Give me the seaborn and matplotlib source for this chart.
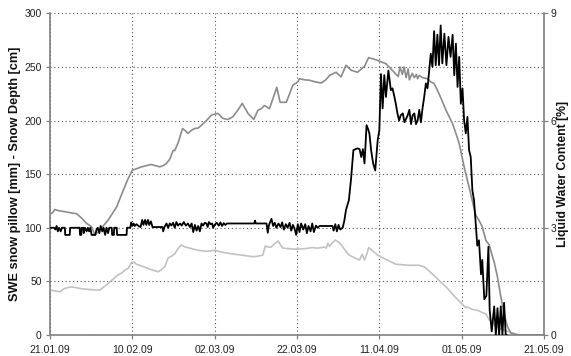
import pandas as pd
import matplotlib
matplotlib.use("Agg")
import matplotlib.pyplot as plt
import matplotlib.dates as mdates
import seaborn as sns

start = pd.Timestamp("2009-01-21")

# Snow depth [cm] (days after 21.01.09)
depth_day = [0, 0.6, 1.2, 2.0, 3.6, 5.0, 6.5, 7.7, 8.9, 10.1, 10.9, 12.1, 14.1, 16.2,
             17.8, 19.0, 20.0, 21.0, 22.2, 23.5, 24.6, 25.5, 26.7, 27.5, 28.3, 29.1,
             29.9, 30.3, 31.1, 32.2, 33.0, 33.5, 34.4, 35.2, 36.0, 36.8, 38.0, 39.2,
             40.0, 40.8, 42.0, 43.2, 44.4, 45.5, 46.7, 48.1, 49.5, 50.5, 51.3, 52.1,
             53.3, 55.1, 55.9, 57.4, 59.0, 60.2, 60.6, 61.8, 63.0, 64.5, 65.9, 67.0,
             67.9, 69.5, 70.7, 71.9, 73.1, 74.7, 76.4, 77.4, 78.5, 79.6, 81.6, 82.6,
             83.6, 84.6, 85.0, 85.6, 86.0, 86.5, 87.0, 87.3, 88.0, 88.5, 89.0, 89.3,
             89.7, 90.5, 91.7, 92.5, 93.3, 94.5, 95.4, 96.2, 97.8, 98.6, 99.4, 100.6,
             101.8, 102.6, 103.4, 104.2, 105.0, 105.9, 106.7, 107.5, 107.9, 108.7,
             109.5, 110.3, 111.1, 111.9, 113.1, 114.0, 120.0]
depth_cm = [113, 114, 117, 116, 115, 114, 113, 109, 104, 101, 93, 98, 107, 119.5,
            135, 146, 153.7, 155, 156.8, 158, 159, 158, 156.8, 158, 160, 164,
            172, 172, 179, 192.6, 190, 188, 191, 192.6, 193, 195.7, 200, 205,
            206, 206.6, 202, 201, 203.4, 209, 216, 206.6, 201, 209.6, 211, 214,
            211, 231, 217, 217, 233, 236, 239, 238, 237.6, 236, 235, 238,
            242, 245, 240.7, 251.6, 247, 245, 250.6, 258.7, 257.5, 256, 253, 249,
            245, 241, 250, 243, 250, 240, 248, 238, 244, 240, 243, 239,
            242, 240, 239, 236, 234.5, 225, 217, 209.6, 197, 188, 178.6, 156.8,
            138, 125, 112, 107, 101, 88, 84, 73, 68, 54,
            36, 20, 8, 2, 0.5, 0, 0]

# Snow water equivalent from the snow pillow [mm]
swe_day = [0, 1.2, 2.4, 3.6, 5.0, 6.0, 8.0, 10.9, 12.1, 13.5, 15.0, 16.5, 17.5, 18.2,
           19.0, 19.4, 19.8, 20.4, 21.0, 22.5, 24.5, 26.3, 27.1, 27.9, 28.7, 29.3,
           30.3, 31.0, 31.9, 32.5, 33.9, 36.0, 38.0, 40.0, 41.5, 43.6, 45.5, 47.5,
           49.3, 50.5, 51.7, 52.3, 53.0, 53.7, 54.5, 55.4, 56.0, 56.6, 58.0, 59.8,
           61.8, 63.8, 65.0, 66.7, 67.1, 67.5, 67.9, 68.6, 69.3, 70.0, 70.7, 71.7,
           72.7, 74.0, 75.2, 75.8, 76.4, 77.0, 77.4, 78.5, 79.6, 80.6, 81.6, 83.0,
           84.0, 85.5, 87.3, 89.7, 90.9, 92.3, 93.7, 95.0, 96.2, 97.8, 99.4, 101.0,
           101.4, 102.5, 103.8, 105.0, 105.9, 106.7, 107.5, 108.3, 109.9, 111.5,
           113.1, 114.0, 120.0]
swe_mm = [42, 41, 40.4, 43.5, 44.8, 44.4, 43, 42, 42, 46, 51, 56, 58, 60.6,
          62, 65, 67.4, 68, 66, 64, 61, 59, 61, 63.7, 72, 73,
          75.6, 80, 84, 82.5, 81, 79, 78, 79, 77.5, 76, 75, 74,
          73, 73.5, 74.5, 83, 82, 82, 85, 87.6, 84, 81, 80.5, 80,
          80.5, 81.5, 81, 82, 81, 85.4, 82.7, 86, 88.5, 87, 84.5, 79,
          74.5, 72, 70, 75.2, 70, 76, 81.5, 78, 74.5, 72.5, 70.5, 68,
          66, 65.5, 65, 65, 63.6, 59, 54, 49, 45, 38, 31.5, 25.5,
          26, 24, 23, 21, 19.5, 14, 12.5, 8, 5, 3,
          1, 0, 0]

# Liquid water content [%]
lwc_day = [0, 1.0, 1.3, 1.6, 1.9, 2.2, 2.6, 2.9, 3.6, 3.7, 4.8, 4.9, 7.2, 7.3, 7.6,
           7.7, 8.1, 8.2, 8.5, 8.9, 9.2, 9.5, 9.8, 10.1, 11.0, 11.3, 11.6, 12.0,
           12.3, 12.7, 13.0, 13.4, 13.7, 14.1, 14.4, 15.0, 15.1, 15.5, 15.6, 16.2,
           16.3, 18.6, 18.7, 19.5, 19.7, 20.0, 20.3, 20.6, 21.0, 21.5, 22.0, 22.4,
           22.7, 23.1, 23.4, 23.8, 24.1, 24.5, 24.9, 27.3, 27.5, 27.8, 28.3, 28.7,
           29.1, 29.5, 29.9, 30.3, 30.7, 31.1, 31.6, 32.0, 32.5, 33.0, 33.5, 34.0,
           34.4, 34.8, 35.2, 35.6, 36.0, 36.4, 36.8, 37.2, 37.6, 38.0, 38.3, 38.6,
           39.0, 39.4, 39.6, 40.0, 40.5, 41.0, 41.4, 41.8, 42.2, 42.6, 43.0, 49.6,
           49.8, 50.0, 52.6, 52.9, 53.2, 53.8, 54.2, 54.6, 55.0, 55.5, 56.0, 56.4,
           56.8, 57.3, 57.7, 58.2, 58.6, 59.0, 59.4, 59.8, 60.2, 60.6, 61.0, 61.5,
           62.0, 62.4, 62.8, 63.3, 63.7, 64.1, 64.6, 65.0, 65.5, 68.6, 68.9, 69.3,
           69.7, 70.1, 70.5, 71.1, 71.5, 71.9, 72.6, 73.1, 73.7, 74.2, 74.7, 75.2,
           75.6, 76.0, 76.4, 76.9, 77.3, 77.6, 78.0, 78.5, 79.0, 79.6, 80.0, 80.4,
           80.8, 81.2, 81.6, 82.2, 82.8, 83.2, 83.6, 84.0, 84.4, 84.8, 85.2, 85.7,
           86.1, 86.5, 86.9, 87.3, 87.7, 88.1, 88.5, 88.9, 89.3, 89.7, 90.1, 90.5,
           90.9, 91.3, 91.7, 92.1, 92.5, 92.9, 93.3, 93.7, 94.1, 94.5, 94.9, 95.3,
           95.8, 96.3, 96.8, 97.3, 97.8, 98.2, 98.6, 99.0, 99.4, 99.8, 100.2, 100.6,
           101.0, 101.4, 101.8, 102.2, 102.6, 103.0, 103.4, 103.8, 104.2, 104.7,
           105.0, 105.5, 106.0, 106.5, 106.8, 107.3, 107.9, 108.3, 108.7, 109.1,
           109.5, 109.9, 110.3, 110.7, 111.0]
lwc_pct = [3.0, 3.0, 2.95, 3.05, 2.9, 3.0, 2.9, 3.0, 3.0, 2.8, 2.8, 3.0, 3.0, 2.8, 2.8,
           3.0, 3.0, 2.85, 3.0, 2.9, 3.0, 2.9, 3.0, 2.8, 2.8, 2.95, 3.0, 2.85,
           3.05, 2.9, 3.0, 2.8, 3.0, 2.85, 3.0, 3.0, 2.8, 2.8, 3.0, 3.0,
           2.8, 2.8, 3.0, 3.0, 3.15, 3.05, 3.12, 3.05, 3.1, 3.05, 3.02, 3.22,
           3.08, 3.22, 3.08, 3.22, 3.08, 3.18, 3.02, 3.02, 2.9, 3.02, 3.12, 3.0,
           3.12, 3.06, 3.14, 3.0, 3.16, 3.06, 3.12, 3.06, 3.16, 3.06, 3.12, 3.02,
           3.12, 2.88, 3.08, 2.92, 3.05, 2.9, 3.12, 3.06, 3.14, 3.12, 3.02, 3.16,
           3.1, 3.12, 3.0, 3.08, 3.14, 3.06, 3.15, 3.05, 3.13, 3.08, 3.12, 3.12,
           3.2, 3.12, 3.12, 2.86, 3.08, 3.25, 3.05, 3.14, 3.0, 3.12, 3.02, 3.15,
           2.95, 3.1, 3.0, 3.14, 2.92, 3.08, 2.98, 2.8, 3.1, 2.88, 3.12, 2.95,
           3.1, 2.85, 3.05, 2.9, 3.12, 2.88, 3.06, 3.0, 3.05, 3.05, 2.92, 3.1,
           2.9, 3.08, 2.95, 3.0, 3.2, 3.5, 3.77, 4.33, 5.17, 5.2, 5.22, 5.2,
           4.98, 5.2, 4.8, 5.87, 5.75, 5.63, 5.17, 4.8, 4.6, 5.45, 5.73, 7.3,
           6.34, 7.27, 6.66, 7.4, 6.85, 6.9, 6.7, 6.47, 6.2, 6.0, 6.15, 6.2,
           5.95, 6.05, 6.15, 6.3, 5.9, 6.15, 6.2, 5.9, 6.0, 6.3, 5.95, 6.35,
           6.66, 7.04, 6.9, 7.4, 7.87, 7.5, 8.5, 7.55, 8.4, 7.55, 8.66, 7.6,
           8.43, 7.55, 8.34, 7.78, 8.4, 7.27, 8.15, 6.94, 7.78, 6.47, 6.9, 6.0,
           5.64, 6.1, 5.17, 4.98, 4.05, 3.77, 3.12, 2.5, 2.65, 1.7,
           2.1, 1.0, 1.1, 2.47, 0.7, 0.1, 0.8, 0.0, 0.75, 0.0,
           0.8, 0.0, 0.9, 0.0, 0.0]

x_tick_labels = ["21.01.09", "10.02.09", "02.03.09", "22.03.09",
                 "11.04.09", "01.05.09", "21.05.09"]
left_ticks = [0, 50, 100, 150, 200, 250, 300]
right_ticks = [0, 3, 6, 9]


def frame(days, values, name):
    return pd.DataFrame({"date": start + pd.to_timedelta(days, unit="D"),
                         name: values})


depth_df = frame(depth_day, depth_cm, "value")
swe_df = frame(swe_day, swe_mm, "value")
lwc_df = frame(lwc_day, lwc_pct, "value")

sns.set_style("white")
plt.rcParams["font.family"] = ["Liberation Sans", "DejaVu Sans"]

fig = plt.figure(figsize=(5.71, 3.56), dpi=100)
ax = fig.add_axes([50 / 571, 1 - 335 / 356, 494 / 571, (335 - 13.3) / 356])

sns.lineplot(data=swe_df, x="date", y="value", ax=ax, color="#c2c2c2",
             lw=1.2, estimator=None, sort=False)
sns.lineplot(data=depth_df, x="date", y="value", ax=ax, color="#8c8c8c",
             lw=1.2, estimator=None, sort=False)

tick_dates = pd.to_datetime(x_tick_labels, format="%d.%m.%y")
ax.set_xlim(tick_dates[0], tick_dates[-1])
ax.set_ylim(0, 300)
ax.set_xticks(tick_dates)
ax.xaxis.set_major_formatter(mdates.DateFormatter("%d.%m.%y"))
ax.set_yticks(left_ticks)
ax.set_xlabel("")
ax.set_ylabel("SWE snow pillow [mm] - Snow Depth [cm]", fontsize=9.2,
              fontweight="bold", color="#111111")
ax.yaxis.set_label_coords(-0.058, 0.5)

grid_style = dict(linestyle=(0, (1, 2.4)), color="#555555", lw=0.8)
ax.grid(True, axis="both", **grid_style)
ax.set_axisbelow(True)

for side in ("top", "right"):
    ax.spines[side].set_visible(False)
for side in ("left", "bottom"):
    ax.spines[side].set_color("#808080")
    ax.spines[side].set_linewidth(1.2)

ax.tick_params(axis="both", which="major", direction="out", length=3, width=0.9,
               color="#808080", labelsize=7.5, labelcolor="#222222",
               left=True, bottom=True)
ax.tick_params(axis="x", pad=4)
ax.tick_params(axis="y", pad=3)

ax2 = ax.twinx()
sns.lineplot(data=lwc_df, x="date", y="value", ax=ax2, color="#000000",
             lw=1.3, estimator=None, sort=False)
ax2.set_xlim(tick_dates[0], tick_dates[-1])
ax2.set_ylim(0, 9)
ax2.set_yticks(right_ticks)
ax2.set_ylabel("Liquid Water Content [%]", fontsize=8.8, fontweight="bold",
               color="#111111")
ax2.yaxis.set_label_coords(1.027, 0.5)
ax2.grid(False)
for side in ("top", "left", "bottom"):
    ax2.spines[side].set_visible(False)
ax2.spines["right"].set_visible(True)
ax2.spines["right"].set_color("#808080")
ax2.spines["right"].set_linewidth(1.2)
ax2.tick_params(axis="y", direction="out", length=3, width=0.9, color="#808080",
                labelsize=7.5, labelcolor="#222222", right=True, pad=2)

fig.savefig("out.png", dpi=100, facecolor="white")
